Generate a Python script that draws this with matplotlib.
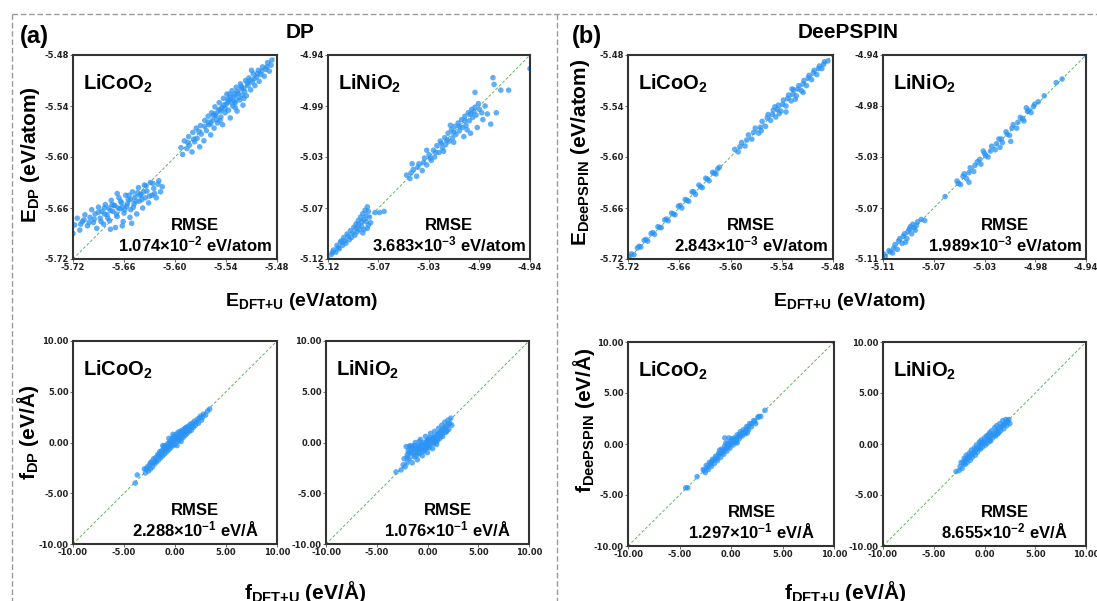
import numpy as np
import matplotlib
matplotlib.use('Agg')
from matplotlib import pyplot as plt
from matplotlib.lines import Line2D

plt.rcParams['font.family'] = ['Liberation Sans', 'DejaVu Sans']
plt.rcParams['mathtext.fontset'] = 'custom'
plt.rcParams['mathtext.rm'] = 'Liberation Sans:bold'
plt.rcParams['mathtext.it'] = 'Liberation Sans:bold'
plt.rcParams['mathtext.bf'] = 'Liberation Sans:bold'

# ---------------- data (DFT+U, model) ----------------
dp_co_e = [
    # upper cluster
    (-5.593, -5.589), (-5.591, -5.597), (-5.589, -5.581), (-5.586, -5.590), (-5.584, -5.576),
    (-5.583, -5.586), (-5.580, -5.594), (-5.579, -5.571), (-5.577, -5.582), (-5.575, -5.566),
    (-5.574, -5.578), (-5.571, -5.588), (-5.570, -5.563), (-5.569, -5.573), (-5.566, -5.581),
    (-5.565, -5.557), (-5.563, -5.569), (-5.561, -5.552), (-5.560, -5.562), (-5.558, -5.574),
    (-5.557, -5.548), (-5.556, -5.557), (-5.554, -5.566), (-5.553, -5.541), (-5.552, -5.551),
    (-5.550, -5.560), (-5.549, -5.545), (-5.548, -5.536), (-5.546, -5.553), (-5.545, -5.542),
    (-5.544, -5.562), (-5.543, -5.531), (-5.541, -5.548), (-5.540, -5.538), (-5.539, -5.526),
    (-5.537, -5.545), (-5.536, -5.533), (-5.535, -5.554), (-5.533, -5.522), (-5.532, -5.540),
    (-5.531, -5.529), (-5.529, -5.536), (-5.528, -5.518), (-5.527, -5.546), (-5.526, -5.525),
    (-5.524, -5.533), (-5.523, -5.514), (-5.521, -5.527), (-5.520, -5.539), (-5.519, -5.519),
    (-5.517, -5.510), (-5.516, -5.528), (-5.514, -5.516), (-5.513, -5.507), (-5.511, -5.521),
    (-5.509, -5.512), (-5.508, -5.502), (-5.506, -5.516), (-5.504, -5.506), (-5.502, -5.498),
    (-5.501, -5.511), (-5.499, -5.503), (-5.497, -5.494), (-5.495, -5.505), (-5.493, -5.497),
    (-5.491, -5.489), (-5.489, -5.499), (-5.487, -5.492), (-5.486, -5.486),
    (-5.547, -5.544), (-5.538, -5.532), (-5.530, -5.526), (-5.555, -5.551), (-5.522, -5.520),
    (-5.561, -5.559), (-5.558, -5.561), (-5.553, -5.549), (-5.551, -5.556), (-5.546, -5.546),
    (-5.543, -5.539), (-5.541, -5.543), (-5.538, -5.536), (-5.535, -5.530), (-5.533, -5.536),
    (-5.530, -5.534), (-5.527, -5.523), (-5.525, -5.530), (-5.522, -5.517), (-5.518, -5.523),
    (-5.515, -5.513), (-5.512, -5.510), (-5.507, -5.508), (-5.503, -5.502), (-5.498, -5.499),
    (-5.565, -5.564), (-5.572, -5.570), (-5.578, -5.579), (-5.585, -5.583), (-5.547, -5.557),
    (-5.536, -5.526), (-5.529, -5.542), (-5.519, -5.531), (-5.510, -5.498), (-5.492, -5.494),
    # lower cluster
    (-5.720, -5.690), (-5.718, -5.680), (-5.715, -5.672), (-5.712, -5.686), (-5.709, -5.676),
    (-5.706, -5.668), (-5.703, -5.681), (-5.700, -5.671), (-5.698, -5.662), (-5.696, -5.677),
    (-5.694, -5.667), (-5.692, -5.684), (-5.690, -5.659), (-5.688, -5.672), (-5.686, -5.664),
    (-5.684, -5.679), (-5.682, -5.656), (-5.680, -5.668), (-5.678, -5.660), (-5.677, -5.675),
    (-5.675, -5.651), (-5.673, -5.664), (-5.671, -5.657), (-5.670, -5.683), (-5.668, -5.670),
    (-5.666, -5.648), (-5.665, -5.661), (-5.663, -5.654), (-5.661, -5.676), (-5.660, -5.666),
    (-5.658, -5.645), (-5.657, -5.658), (-5.655, -5.650), (-5.653, -5.671), (-5.652, -5.662),
    (-5.650, -5.641), (-5.648, -5.655), (-5.647, -5.647), (-5.645, -5.667), (-5.643, -5.636),
    (-5.642, -5.652), (-5.640, -5.644), (-5.638, -5.660), (-5.636, -5.633), (-5.635, -5.648),
    (-5.633, -5.640), (-5.631, -5.654), (-5.629, -5.630), (-5.627, -5.645), (-5.625, -5.637),
    (-5.622, -5.648), (-5.620, -5.632), (-5.617, -5.641), (-5.615, -5.635),
    (-5.672, -5.657), (-5.662, -5.659), (-5.652, -5.650), (-5.683, -5.667), (-5.641, -5.645),
    (-5.690, -5.665), (-5.687, -5.676), (-5.683, -5.660), (-5.679, -5.672), (-5.676, -5.663),
    (-5.674, -5.656), (-5.669, -5.667), (-5.667, -5.660), (-5.664, -5.652), (-5.659, -5.662),
    (-5.656, -5.655), (-5.654, -5.645), (-5.649, -5.659), (-5.646, -5.652), (-5.644, -5.642),
    (-5.639, -5.650), (-5.637, -5.641), (-5.634, -5.634), (-5.630, -5.646), (-5.626, -5.631),
    (-5.695, -5.673), (-5.701, -5.677), (-5.707, -5.674), (-5.711, -5.679), (-5.662, -5.681),
    (-5.651, -5.678), (-5.676, -5.685), (-5.619, -5.628), (-5.624, -5.643), (-5.668, -5.643),
]
dp_ni_e = [
    (-5.117, -5.116), (-5.115, -5.112), (-5.113, -5.114), (-5.112, -5.108), (-5.110, -5.111),
    (-5.109, -5.105), (-5.107, -5.108), (-5.106, -5.101), (-5.104, -5.106), (-5.103, -5.098),
    (-5.101, -5.103), (-5.100, -5.095), (-5.099, -5.101), (-5.097, -5.092), (-5.096, -5.099),
    (-5.095, -5.089), (-5.094, -5.096), (-5.093, -5.086), (-5.092, -5.094), (-5.091, -5.083),
    (-5.090, -5.091), (-5.089, -5.080), (-5.088, -5.094), (-5.087, -5.077), (-5.086, -5.087),
    (-5.085, -5.074), (-5.084, -5.090), (-5.083, -5.083), (-5.082, -5.088), (-5.078, -5.079),
    (-5.074, -5.079), (-5.070, -5.078),
    (-5.116, -5.114), (-5.111, -5.110), (-5.108, -5.104), (-5.105, -5.104), (-5.102, -5.100),
    (-5.098, -5.097), (-5.095, -5.093), (-5.093, -5.090), (-5.090, -5.087), (-5.088, -5.085),
    (-5.086, -5.082), (-5.084, -5.078), (-5.089, -5.097), (-5.085, -5.093),
    (-5.050, -5.046), (-5.047, -5.049), (-5.044, -5.041), (-5.041, -5.047), (-5.039, -5.036),
    (-5.036, -5.042), (-5.034, -5.031), (-5.032, -5.037), (-5.030, -5.028), (-5.028, -5.033),
    (-5.026, -5.024), (-5.025, -5.030), (-5.023, -5.020), (-5.021, -5.026), (-5.020, -5.016),
    (-5.018, -5.022), (-5.016, -5.013), (-5.015, -5.019), (-5.013, -5.009), (-5.012, -5.016),
    (-5.010, -5.006), (-5.009, -5.013), (-5.007, -5.003), (-5.006, -5.010), (-5.004, -5.000),
    (-5.003, -5.007), (-5.001, -4.997), (-5.000, -5.004), (-4.998, -4.994), (-4.997, -5.002),
    (-4.995, -4.991), (-4.994, -4.998), (-4.992, -4.988), (-4.991, -4.995), (-4.989, -4.986),
    (-4.988, -4.993), (-4.986, -4.983), (-4.985, -4.988), (-4.999, -5.012), (-4.993, -5.009),
    (-4.987, -5.004), (-4.982, -4.997), (-4.978, -4.992), (-4.975, -5.001), (-4.970, -4.991),
    (-4.989, -4.973), (-4.973, -4.960), (-4.972, -4.966), (-4.966, -4.971), (-4.959, -4.971),
    (-4.940, -4.952),
    (-5.046, -5.044), (-5.040, -5.039), (-5.035, -5.035), (-5.029, -5.031), (-5.024, -5.026),
    (-5.019, -5.018), (-5.014, -5.015), (-5.008, -5.008), (-5.003, -5.003), (-4.998, -4.998),
    (-4.993, -4.992), (-4.990, -4.990), (-5.017, -5.025), (-5.008, -5.017), (-4.996, -5.006),
    (-5.045, -5.036), (-5.032, -5.024), (-5.011, -5.002), (-4.983, -4.991), (-4.980, -4.985),
]
dp_co_f = [
    (-3.9, -4.0), (-3.7, -3.2), (-3.0, -2.6), (-2.9, -3.0), (-2.7, -2.4), (-2.6, -2.8),
    (-2.5, -2.2), (-2.4, -2.6), (-2.3, -1.9), (-2.2, -2.4), (-2.1, -1.6), (-2.0, -2.1),
    (-1.9, -1.5), (-1.8, -1.9), (-1.7, -1.2), (-1.6, -1.7), (-1.5, -0.9), (-1.4, -1.5),
    (-1.3, -0.8), (-1.2, -1.3), (-1.1, -0.5), (-1.0, -1.1), (-0.9, -0.4), (-0.8, -0.9),
    (-0.7, -0.1), (-0.6, -0.7), (-0.5, 0.1), (-0.4, -0.5), (-0.3, 0.4), (-0.2, -0.3),
    (-0.1, 0.6), (0.0, -0.2), (0.1, 0.8), (0.2, 0.1), (0.3, 1.0), (0.4, 0.2),
    (0.5, 1.1), (0.6, 0.4), (0.7, 1.2), (0.8, 0.5), (0.9, 1.3), (1.0, 0.7),
    (1.1, 1.5), (1.2, 0.9), (1.3, 1.6), (1.4, 1.1), (1.5, 1.8), (1.6, 1.2),
    (1.7, 1.9), (1.8, 1.5), (1.9, 2.1), (2.0, 1.7), (2.2, 2.3), (2.3, 1.9),
    (2.5, 2.6), (2.6, 2.2), (2.8, 2.8), (3.0, 2.7), (3.2, 3.1), (3.4, 3.3),
    (-1.0, -0.3), (-0.5, -0.3), (0.3, 0.5), (-0.2, 0.2), (0.8, 0.9), (-0.8, -0.5),
    (1.2, 1.2), (-1.6, -1.3), (0.0, 0.3), (0.5, 0.6), (-2.4, -2.0), (2.1, 2.0),
    (-1.5, -1.2), (-1.3, -1.0), (-1.1, -0.8), (-0.9, -0.7), (-0.7, -0.4), (-0.6, -0.2),
    (-0.4, -0.1), (-0.3, 0.1), (-0.1, 0.2), (0.1, 0.4), (0.2, 0.5), (0.4, 0.7),
    (0.6, 0.8), (0.7, 0.9), (0.9, 1.0), (1.1, 1.1), (1.3, 1.3), (1.5, 1.5),
    (1.7, 1.6), (-1.9, -1.8), (-2.1, -2.0), (-0.2, 0.8), (-0.6, 0.4), (0.2, -0.3),
    (0.6, 0.1), (-1.2, -0.3), (1.0, 1.4), (2.4, 2.4), (2.7, 2.5), (-2.8, -2.6),
]
dp_ni_f = [
    (-3.1, -2.9), (-2.6, -2.7), (-2.4, -2.2), (-2.3, -1.6), (-2.2, -2.4), (-2.1, -0.4),
    (-2.0, -1.2), (-2.0, -2.0), (-1.9, -0.8), (-1.8, -1.6), (-1.7, -0.3), (-1.6, -1.1),
    (-1.5, -2.0), (-1.4, -0.6), (-1.3, -1.4), (-1.2, 0.0), (-1.1, -0.9), (-1.0, -1.7),
    (-0.9, -0.3), (-0.8, -1.1), (-0.7, 0.3), (-0.6, -0.6), (-0.5, -1.3), (-0.4, 0.0),
    (-0.3, -0.8), (-0.2, 0.6), (-0.1, -0.3), (0.0, -1.0), (0.1, 0.3), (0.2, -0.5),
    (0.3, 0.9), (0.4, 0.0), (0.5, -0.6), (0.6, 0.5), (0.7, 1.1), (0.8, 0.2),
    (0.9, -0.2), (1.0, 0.8), (1.1, 1.4), (1.2, 0.4), (1.3, 1.0), (1.4, 1.7),
    (1.5, 0.6), (1.6, 1.3), (1.7, 2.0), (1.8, 1.0), (1.9, 1.6), (2.0, 2.2),
    (2.1, 1.3), (2.2, 1.9), (2.3, 2.4), (2.4, 1.7),
    (-1.5, -0.4), (-0.8, -0.4), (0.0, 0.2), (0.6, -0.1), (-1.8, -1.0), (1.0, 0.2),
    (-0.3, -0.2), (0.3, 0.3), (-1.2, -0.6),
    (-1.6, -0.7), (-1.4, -1.0), (-1.3, -0.3), (-1.1, -1.3), (-1.0, -0.6), (-0.9, -1.0),
    (-0.7, -0.7), (-0.6, -0.2), (-0.5, -0.9), (-0.4, -0.4), (-0.2, -0.6), (-0.1, 0.1),
    (0.1, -0.3), (0.2, 0.5), (0.3, -0.1), (0.5, 0.3), (0.7, 0.6), (0.8, 0.0),
    (0.9, 0.5), (1.1, 0.9), (1.3, 0.6), (1.4, 1.2), (1.5, 0.9), (1.7, 1.5),
    (1.9, 1.1), (2.1, 1.8), (-2.0, -1.5), (-1.8, -0.4), (-0.8, 0.1), (0.0, -0.5),
]
sp_co_e = [
    (-5.718, -5.717), (-5.713, -5.715), (-5.709, -5.707), (-5.705, -5.706), (-5.701, -5.698),
    (-5.697, -5.699), (-5.693, -5.690), (-5.689, -5.691), (-5.685, -5.682), (-5.681, -5.683),
    (-5.677, -5.674), (-5.673, -5.675), (-5.669, -5.666), (-5.665, -5.668), (-5.661, -5.658),
    (-5.657, -5.660), (-5.653, -5.650), (-5.649, -5.652), (-5.645, -5.641), (-5.641, -5.644),
    (-5.637, -5.633), (-5.633, -5.636), (-5.629, -5.625), (-5.625, -5.628), (-5.621, -5.618),
    (-5.617, -5.620), (-5.613, -5.612),
    (-5.716, -5.714), (-5.707, -5.705), (-5.699, -5.697), (-5.691, -5.689), (-5.683, -5.683),
    (-5.675, -5.673), (-5.667, -5.667), (-5.659, -5.657), (-5.651, -5.651), (-5.643, -5.641),
    (-5.635, -5.635), (-5.627, -5.626), (-5.619, -5.619), (-5.615, -5.614),
    (-5.595, -5.591), (-5.591, -5.594), (-5.587, -5.583), (-5.583, -5.587), (-5.579, -5.574),
    (-5.575, -5.579), (-5.571, -5.566), (-5.567, -5.572), (-5.563, -5.558), (-5.559, -5.564),
    (-5.556, -5.550), (-5.553, -5.557), (-5.550, -5.545), (-5.547, -5.553), (-5.544, -5.539),
    (-5.541, -5.546), (-5.538, -5.533), (-5.535, -5.540), (-5.532, -5.527), (-5.529, -5.534),
    (-5.526, -5.521), (-5.523, -5.528), (-5.520, -5.516), (-5.517, -5.522), (-5.514, -5.510),
    (-5.511, -5.516), (-5.508, -5.504), (-5.505, -5.509), (-5.502, -5.498), (-5.499, -5.503),
    (-5.496, -5.493), (-5.493, -5.496), (-5.490, -5.488), (-5.486, -5.487),
    (-5.535, -5.547), (-5.524, -5.532), (-5.515, -5.524),
    (-5.589, -5.588), (-5.581, -5.580), (-5.573, -5.571), (-5.565, -5.565), (-5.557, -5.554),
    (-5.551, -5.550), (-5.545, -5.544), (-5.539, -5.538), (-5.533, -5.531), (-5.527, -5.526),
    (-5.521, -5.520), (-5.515, -5.514), (-5.509, -5.507), (-5.503, -5.501), (-5.497, -5.496),
    (-5.491, -5.491), (-5.564, -5.569), (-5.548, -5.541), (-5.543, -5.549), (-5.528, -5.520),
]
sp_ni_e = [
    (-5.108, -5.108), (-5.105, -5.103), (-5.102, -5.105), (-5.100, -5.098), (-5.098, -5.102),
    (-5.096, -5.093), (-5.094, -5.097), (-5.092, -5.089), (-5.090, -5.093), (-5.088, -5.085),
    (-5.086, -5.089), (-5.085, -5.081), (-5.083, -5.086), (-5.081, -5.079), (-5.078, -5.077),
    (-5.075, -5.078),
    (-5.109, -5.106), (-5.104, -5.104), (-5.101, -5.101), (-5.097, -5.095), (-5.093, -5.091),
    (-5.089, -5.087), (-5.087, -5.083), (-5.084, -5.084), (-5.082, -5.082), (-5.091, -5.096),
    (-5.058, -5.058), (-5.048, -5.045), (-5.045, -5.048), (-5.042, -5.039), (-5.040, -5.043),
    (-5.037, -5.034), (-5.034, -5.037), (-5.031, -5.029), (-5.028, -5.031), (-5.025, -5.022),
    (-5.022, -5.025), (-5.019, -5.016), (-5.016, -5.019), (-5.013, -5.010), (-5.010, -5.013),
    (-5.007, -5.004), (-5.004, -5.007), (-5.001, -4.998), (-4.998, -5.001), (-4.995, -4.992),
    (-4.992, -4.995), (-4.989, -4.987), (-4.986, -4.988), (-4.983, -4.981), (-4.980, -4.979),
    (-4.975, -4.974), (-4.965, -4.963), (-4.960, -4.960), (-5.038, -5.046), (-5.003, -5.012),
    (-4.940, -4.940),
    (-5.047, -5.047), (-5.043, -5.041), (-5.038, -5.038), (-5.033, -5.032), (-5.029, -5.027),
    (-5.024, -5.024), (-5.020, -5.020), (-5.015, -5.014), (-5.011, -5.010), (-5.006, -5.006),
    (-5.002, -5.001), (-4.997, -4.996), (-4.993, -4.993), (-4.988, -4.986), (-4.984, -4.983),
    (-5.026, -5.020), (-5.012, -5.017), (-4.990, -4.984),
]
sp_co_f = [
    (-4.4, -4.3), (-4.2, -4.3), (-3.3, -3.2), (-2.7, -2.5), (-2.5, -2.8), (-2.4, -2.1),
    (-2.2, -2.5), (-2.1, -1.8), (-1.9, -2.2), (-1.8, -1.5), (-1.6, -1.9), (-1.5, -1.2),
    (-1.3, -1.6), (-1.2, -0.9), (-1.0, -1.3), (-0.9, -0.5), (-0.7, -1.0), (-0.6, -0.2),
    (-0.4, -0.7), (-0.3, 0.1), (-0.1, -0.4), (0.0, 0.3), (0.2, -0.1), (0.3, 0.6),
    (0.5, 0.2), (0.6, 0.9), (0.8, 0.5), (0.9, 1.2), (1.1, 0.8), (1.2, 1.4),
    (1.4, 1.0), (1.5, 1.7), (1.7, 1.4), (1.8, 2.0), (2.0, 1.7), (2.2, 2.3),
    (2.4, 2.0), (2.6, 2.6), (2.9, 2.7), (3.3, 3.3),
    (-1.4, -1.4), (-0.5, -0.5), (0.4, 0.4), (1.3, 1.2), (-2.0, -2.0), (-0.8, -0.8),
    (0.8, 0.8), (-0.2, 0.6), (-0.6, 0.6),
    (-2.3, -2.3), (-1.9, -1.8), (-1.7, -1.6), (-1.5, -1.5), (-1.2, -1.1), (-1.0, -0.9),
    (-0.9, -0.9), (-0.7, -0.6), (-0.4, -0.3), (-0.3, -0.3), (-0.1, 0.0), (0.0, 0.0),
    (0.2, 0.2), (0.3, 0.2), (0.5, 0.5), (0.7, 0.7), (0.9, 0.8), (1.0, 1.0),
    (1.2, 1.1), (1.5, 1.4), (1.7, 1.7), (2.0, 2.0), (2.3, 2.2), (2.7, 2.7),
    (-2.6, -2.6), (-1.1, -0.6), (0.1, 0.5), (-0.5, 0.1), (0.6, 0.1), (1.6, 1.1),
]
sp_ni_f = [
    (-2.8, -2.7), (-2.5, -2.6), (-2.3, -1.8), (-2.2, -2.4), (-2.0, -1.4), (-1.9, -2.0),
    (-1.8, -1.1), (-1.7, -1.8), (-1.5, -0.9), (-1.4, -1.6), (-1.3, -0.6), (-1.2, -1.3),
    (-1.0, -0.4), (-0.9, -1.1), (-0.8, -0.1), (-0.7, -0.8), (-0.5, 0.2), (-0.4, -0.5),
    (-0.3, 0.4), (-0.2, -0.3), (0.0, 0.6), (0.1, -0.1), (0.2, 0.8), (0.3, 0.1),
    (0.5, 1.1), (0.6, 0.3), (0.7, 1.3), (0.8, 0.6), (1.0, 1.6), (1.1, 0.8),
    (1.2, 1.8), (1.3, 1.0), (1.5, 2.0), (1.6, 1.3), (1.8, 2.3), (1.9, 1.5),
    (2.1, 2.4), (2.2, 1.8), (2.4, 2.4), (2.5, 2.0),
    (-1.6, -1.3), (-0.9, -0.6), (-0.2, 0.1), (0.5, 0.6), (1.2, 1.2), (1.9, 1.9),
    (-2.0, -1.9),
    (-2.4, -2.2), (-2.1, -1.8), (-1.9, -1.6), (-1.7, -1.4), (-1.5, -1.3), (-1.3, -1.0),
    (-1.1, -0.9), (-1.0, -0.8), (-0.8, -0.5), (-0.6, -0.3), (-0.5, -0.4), (-0.3, -0.1),
    (-0.1, 0.2), (0.0, 0.1), (0.2, 0.4), (0.4, 0.5), (0.5, 0.3), (0.7, 0.8),
    (0.9, 1.0), (1.0, 0.9), (1.2, 1.3), (1.4, 1.5), (1.6, 1.7), (1.8, 1.8),
    (2.0, 2.0), (2.2, 2.1), (2.3, 2.3), (-0.4, 0.1), (0.4, 0.9), (1.4, 1.1),
]

# axis ranges and tick labels
dp_co_e_lim = (-5.72, -5.48)
dp_co_e_ticks = ['-5.72', '-5.66', '-5.60', '-5.54', '-5.48']
dp_ni_e_lim = (-5.12, -4.94)
dp_ni_e_ticks = ['-5.12', '-5.07', '-5.03', '-4.99', '-4.94']
sp_co_e_lim = (-5.72, -5.48)
sp_co_e_ticks = ['-5.72', '-5.66', '-5.60', '-5.54', '-5.48']
sp_ni_e_lim = (-5.11, -4.94)
sp_ni_e_ticks = ['-5.11', '-5.07', '-5.03', '-4.98', '-4.94']
f_lim = (-10.0, 10.0)
f_ticks = ['-10.00', '-5.00', '0.00', '5.00', '10.00']

rmse_text = [
    r'1.074$\times$10$^{-2}$ eV/atom', r'3.683$\times$10$^{-3}$ eV/atom',
    r'2.288$\times$10$^{-1}$ eV/Å', r'1.076$\times$10$^{-1}$ eV/Å',
    r'2.843$\times$10$^{-3}$ eV/atom', r'1.989$\times$10$^{-3}$ eV/atom',
    r'1.297$\times$10$^{-1}$ eV/Å', r'8.655$\times$10$^{-2}$ eV/Å',
]
materials = [r'LiCoO$_2$', r'LiNiO$_2$']

W, H = 1097, 601
fig = plt.figure(figsize=(W / 100, H / 100), dpi=100)


def box(l, r, t, b):
    return [l / W, 1 - b / H, (r - l) / W, (b - t) / H]


def fx(x, y):
    return x / W, 1 - y / H


def panel(rect, pts, lim, ticks, mat, rmse):
    ax = fig.add_axes(rect)
    lo, hi = lim
    ax.plot([lo, hi], [lo, hi], ls='--', color='#5cb85c', lw=0.7, dashes=(3, 2), zorder=1)
    xy = np.array(pts).T
    ax.scatter(xy[0], xy[1], s=16, color='#2a93f5', alpha=0.75, edgecolors='none', zorder=2)
    ax.set_xlim(lo, hi)
    ax.set_ylim(lo, hi)
    t = np.linspace(lo, hi, 5)
    ax.set_xticks(t)
    ax.set_yticks(t)
    ax.set_xticklabels(ticks)
    ax.set_yticklabels(ticks)
    for lab in ax.get_xticklabels() + ax.get_yticklabels():
        lab.set_family('DejaVu Sans')
        lab.set_fontweight('bold')
        lab.set_fontsize(6)
        lab.set_color('#222222')
    ax.tick_params(length=2, width=0.6, pad=1, color='#555555')
    for sp in ax.spines.values():
        sp.set_linewidth(1.5)
        sp.set_color('#333333')
    ax.text(0.05, 0.915, mat, transform=ax.transAxes, fontsize=14.5, fontweight='bold',
            va='top', ha='left')
    ax.text(0.6, 0.165, 'RMSE', transform=ax.transAxes, fontsize=12, fontweight='bold',
            va='center', ha='center')
    ax.text(0.6, 0.07, rmse, transform=ax.transAxes, fontsize=12, fontweight='bold',
            va='center', ha='center')
    return ax


panel(box(73, 277, 55, 259), dp_co_e, dp_co_e_lim, dp_co_e_ticks, materials[0], rmse_text[0])
panel(box(328, 530, 55, 259), dp_ni_e, dp_ni_e_lim, dp_ni_e_ticks, materials[1], rmse_text[1])
panel(box(73, 277, 341, 544), dp_co_f, f_lim, f_ticks, materials[0], rmse_text[2])
panel(box(326, 529, 341, 544), dp_ni_f, f_lim, f_ticks, materials[1], rmse_text[3])
panel(box(628, 833, 55, 259), sp_co_e, sp_co_e_lim, sp_co_e_ticks, materials[0], rmse_text[4])
panel(box(883, 1086, 55, 259), sp_ni_e, sp_ni_e_lim, sp_ni_e_ticks, materials[1], rmse_text[5])
panel(box(628, 834, 342, 546), sp_co_f, f_lim, f_ticks, materials[0], rmse_text[6])
panel(box(883, 1086, 342, 546), sp_ni_f, f_lim, f_ticks, materials[1], rmse_text[7])

# dashed frames
dash = dict(color='#9a9a9a', lw=1.0, ls=(0, (4, 2)), transform=fig.transFigure)
for seg in [((12, 14), (1097, 14)), ((12, 14), (12, 601)), ((557, 14), (557, 601))]:
    (x0, y0), (x1, y1) = seg
    fig.add_artist(Line2D([x0 / W, x1 / W], [1 - y0 / H, 1 - y1 / H], **dash))

# titles and axis labels
fig.text(*fx(20, 36), '(a)', fontsize=17, fontweight='bold', ha='left', va='center')
fig.text(*fx(572, 36), '(b)', fontsize=17, fontweight='bold', ha='left', va='center')
fig.text(*fx(300, 32), 'DP', fontsize=15, fontweight='bold', ha='center', va='center')
fig.text(*fx(848, 32), 'DeePSPIN', fontsize=15, fontweight='bold', ha='center', va='center')

fig.text(*fx(30, 155), r'E$_{\rm DP}$ (eV/atom)', fontsize=15, fontweight='bold',
         rotation=90, ha='center', va='center')
fig.text(*fx(28, 432), r'f$_{\rm DP}$ (eV/Å)', fontsize=15, fontweight='bold',
         rotation=90, ha='center', va='center')
fig.text(*fx(580, 152), r'E$_{\rm DeePSPIN}$ (eV/atom)', fontsize=15, fontweight='bold',
         rotation=90, ha='center', va='center')
fig.text(*fx(584, 420), r'f$_{\rm DeePSPIN}$ (eV/Å)', fontsize=15, fontweight='bold',
         rotation=90, ha='center', va='center')
fig.text(*fx(302, 302), r'E$_{\rm DFT{+}U}$ (eV/atom)', fontsize=14, fontweight='bold',
         ha='center', va='center')
fig.text(*fx(850, 302), r'E$_{\rm DFT{+}U}$ (eV/atom)', fontsize=14, fontweight='bold',
         ha='center', va='center')
fig.text(*fx(305, 592), r'f$_{\rm DFT{+}U}$ (eV/Å)', fontsize=15, fontweight='bold',
         ha='center', va='center')
fig.text(*fx(845, 592), r'f$_{\rm DFT{+}U}$ (eV/Å)', fontsize=15, fontweight='bold',
         ha='center', va='center')

fig.savefig('out.png', dpi=100)
